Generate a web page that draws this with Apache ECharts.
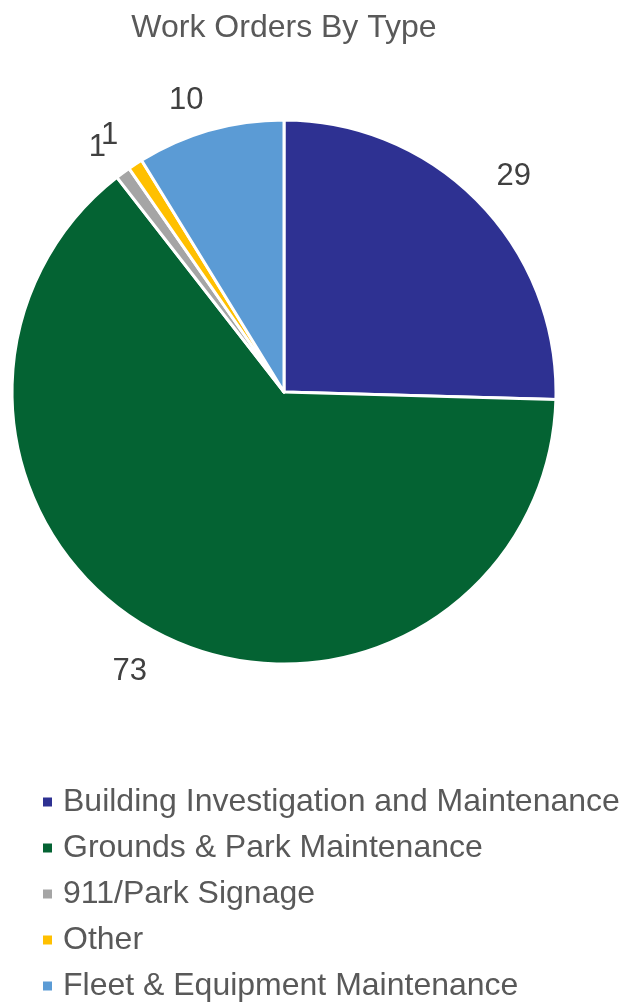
<!DOCTYPE html>
<html>
<head>
<meta charset="utf-8">
<script src="https://cdn.jsdelivr.net/npm/echarts@6/dist/echarts.min.js"></script>
<style>html,body{margin:0;padding:0;background:#fff;}#c{width:621px;height:1003px;}</style>
</head>
<body>
<div id="c"></div>
<script>
const categories = ['Building Investigation and Maintenance','Grounds & Park Maintenance','911/Park Signage','Other','Fleet & Equipment Maintenance'];
const values = [29, 73, 1, 1, 10];
const colors = ['#2E3192','#046333','#A5A5A5','#FFC000','#5B9BD5'];

const chart = echarts.init(document.getElementById('c'), null, {renderer:'canvas'});
const data = categories.map((n,i)=>({name:n, value:values[i], itemStyle:{color:colors[i]}}));
// small nudges so the outside labels sit where the original chart places them
const nudges = [[4,4],[-12,-2],[0,9],[-2,7],[-12,12]];
const labelData = categories.map((n,i)=>({name:n, value:values[i], label:{offset:nudges[i]}}));
chart.setOption({
  animation:false,
  backgroundColor:'#fff',
  title:{text:'Work Orders By Type', left:279, textAlign:'center', top:7,
    textStyle:{fontFamily:'Liberation Sans', fontSize:32, fontWeight:'normal', color:'#595959'}},
  legend:{orient:'vertical', left:41, top:785, height:230, padding:0, itemWidth:11, itemHeight:11, itemGap:12,
    icon:'rect', data:categories,
    textStyle:{fontFamily:'Liberation Sans', fontSize:32, color:'#595959', lineHeight:34, padding:[0,0,0,5]}},
  series:[
    {type:'pie', center:[284,392], radius:[0,272], startAngle:90, clockwise:true,
     data:data, label:{show:false}, labelLine:{show:false},
     itemStyle:{borderColor:'#fff', borderWidth:3}, silent:true},
    {type:'pie', center:[284,392], radius:[292,332], startAngle:90, clockwise:true,
     data:labelData, silent:true, legendHoverLink:false, avoidLabelOverlap:false,
     labelLayout:{hideOverlap:false},
     itemStyle:{color:'rgba(0,0,0,0)'},
     label:{show:true, position:'inside', formatter:'{c}', fontFamily:'Liberation Sans', fontSize:31, color:'#404040'},
     labelLine:{show:false}}
  ]
});
</script>
</body>
</html>
